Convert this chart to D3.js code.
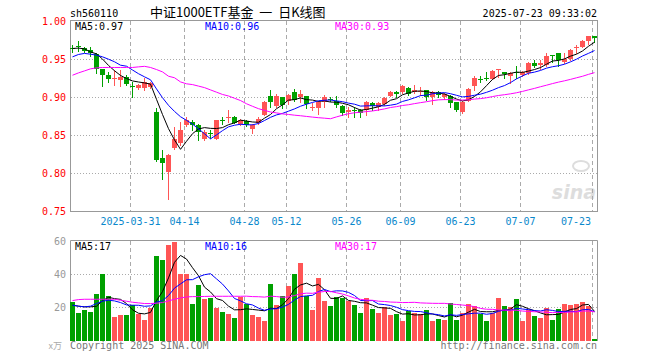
<!DOCTYPE html>
<html><head><meta charset="utf-8">
<script src="https://cdn.jsdelivr.net/npm/d3@7/dist/d3.min.js"></script>
<style>body{margin:0;background:#fff}svg{display:block}</style>
</head><body><svg id="c" width="660" height="360"></svg>
<script>
// ---- data ----
const dates = [
 "2025-03-17","2025-03-18","2025-03-19","2025-03-20","2025-03-21","2025-03-24","2025-03-25","2025-03-26","2025-03-27","2025-03-28",
 "2025-03-31","2025-04-01","2025-04-02","2025-04-03","2025-04-07","2025-04-08","2025-04-09","2025-04-10","2025-04-11","2025-04-14",
 "2025-04-15","2025-04-16","2025-04-17","2025-04-18","2025-04-21","2025-04-22","2025-04-23","2025-04-24","2025-04-25","2025-04-28",
 "2025-04-29","2025-04-30","2025-05-06","2025-05-07","2025-05-08","2025-05-09","2025-05-12","2025-05-13","2025-05-14","2025-05-15",
 "2025-05-16","2025-05-19","2025-05-20","2025-05-21","2025-05-22","2025-05-23","2025-05-26","2025-05-27","2025-05-28","2025-05-29",
 "2025-05-30","2025-06-03","2025-06-04","2025-06-05","2025-06-06","2025-06-09","2025-06-10","2025-06-11","2025-06-12","2025-06-13",
 "2025-06-16","2025-06-17","2025-06-18","2025-06-19","2025-06-20","2025-06-23","2025-06-24","2025-06-25","2025-06-26","2025-06-27",
 "2025-06-30","2025-07-01","2025-07-02","2025-07-03","2025-07-04","2025-07-07","2025-07-08","2025-07-09","2025-07-10","2025-07-11",
 "2025-07-14","2025-07-15","2025-07-16","2025-07-17","2025-07-18","2025-07-21","2025-07-22","2025-07-23"];
const open = [.965,.968,.965,.963,.957,.937,.930,.925,.923,.927,
 .915,.912,.912,.914,.881,.820,.802,.833,.840,.864,
 .868,.864,.845,.853,.846,.871,.873,.875,.865,.869,
 .859,.866,.877,.902,.889,.900,.896,.907,.901,.902,
 .886,.886,.894,.898,.896,.889,.881,.884,.884,.883,
 .893,.888,.891,.902,.907,.907,.913,.907,.908,.910,
 .900,.907,.900,.902,.894,.881,.896,.915,.924,.925,
 .924,.936,.933,.928,.933,.929,.932,.946,.943,.943,
 .956,.958,.947,.951,.966,.967,.975,.981];
const high = [.969,.975,.966,.966,.958,.938,.934,.936,.936,.929,
 .920,.918,.925,.921,.886,.831,.826,.861,.868,.874,
 .871,.865,.857,.857,.871,.874,.883,.876,.872,.870,
 .865,.874,.896,.910,.904,.901,.905,.911,.910,.902,
 .893,.895,.903,.900,.902,.890,.888,.888,.885,.895,
 .894,.894,.900,.908,.908,.917,.914,.916,.914,.910,
 .908,.909,.906,.903,.894,.896,.913,.928,.928,.934,
 .936,.937,.934,.933,.941,.935,.947,.949,.950,.959,
 .956,.958,.959,.964,.969,.976,.981,.981];
const low = [.960,.961,.960,.955,.932,.915,.921,.916,.915,.916,
 .900,.911,.910,.912,.817,.793,.767,.832,.837,.863,
 .857,.844,.844,.847,.845,.865,.868,.866,.864,.862,
 .853,.865,.877,.888,.888,.886,.892,.896,.894,.886,
 .883,.878,.888,.895,.888,.877,.875,.875,.875,.877,
 .883,.883,.890,.902,.900,.906,.903,.906,.903,.897,
 .891,.901,.898,.888,.882,.880,.895,.910,.921,.923,
 .924,.927,.926,.919,.926,.928,.931,.940,.938,.942,
 .947,.941,.946,.950,.959,.966,.970,.973];
const close = [.964,.966,.961,.958,.938,.930,.924,.926,.927,.918,
 .914,.917,.920,.919,.818,.814,.824,.846,.857,.871,
 .864,.855,.855,.852,.870,.870,.874,.867,.870,.864,
 .864,.872,.894,.894,.902,.890,.903,.897,.905,.891,
 .887,.894,.901,.897,.890,.880,.884,.883,.880,.894,
 .889,.893,.899,.907,.904,.915,.905,.910,.909,.900,
 .907,.903,.904,.893,.883,.894,.911,.926,.923,.924,
 .935,.937,.931,.932,.932,.933,.946,.941,.945,.954,
 .954,.950,.951,.963,.967,.975,.981,.978];
const volume = [23.2,16.7,18.4,17.4,28.1,40.2,26.8,14.3,15.3,15.3,
 21.4,16.3,12.3,19.8,51.1,48.7,57.8,59.6,40.6,40.2,
 22.4,33.5,25.0,26.0,19.8,17.1,16.3,13.7,26.4,22.4,
 15.3,14.3,11.7,34.1,21.4,26.8,32.9,40.2,47.0,26.8,
 18.4,37.6,24.0,21.0,26.4,26.0,24.0,21.4,16.7,25.8,
 19.2,16.7,20.4,15.3,15.9,11.7,17.8,16.7,15.9,18.4,
 11.7,12.9,12.3,22.6,12.3,16.7,22.0,20.8,15.9,11.7,
 16.7,25.8,20.8,20.4,25.0,11.7,18.4,14.7,13.7,19.4,
 12.3,18.9,22.0,21.4,22.0,23.2,20.8,0.8];
// moving-average values before a full window exists
const ma5Head  = [.9645,.965,.964,.960];
const ma10Head = [.9535,.9566,.958,.957,.9557,.9535,.9504,.947,.9425];
const ma30Head = [.9293,.9324,.935,.9377,.939,.9395,.9395,.9395,.9395,.9395,.9395,.9403,.941,.9395,.9368,.9337,.928,.926,.9205,.918,.917,.915,.913,.910,.907,.904,.902,.899,.896];
const vma5Head  = [21.4,20.8,20.4,20.4];
const vma10Head = [21.4,20.8,20.4,20.8,22.4,23.8,24.4,24.0,23.0];
const vma30Head = [24.2,24.8,25.0,25.0,25.0,25.0,25.0,25.0,24.4,23.8,23.2,22.8,22.4,22.4,22.6,23.0,24.0,25.0,25.8,26.4,26.6,26.6,26.7,26.8,26.8,26.8,26.8,26.8,26.8];
const priceTicks = [1.00,0.95,0.90,0.85,0.80,0.75];
const volTicks = [60,40,20];
const tickDates = ["2025-03-31","2025-04-14","2025-04-28","2025-05-12","2025-05-26","2025-06-09","2025-06-23","2025-07-07","2025-07-23"];
const tickLabels = ["2025-03-31","04-14","04-28","05-12","05-26","06-09","06-23","07-07","07-23"];
const priceMaLabels = ["MA5:0.97","MA10:0.96","MA30:0.93"];
const volMaLabels = ["MA5:17","MA10:16","MA30:17"];
const maColors = ["#000000","#0000ff","#ff00ff"];

// ---- drawing ----
const svg = d3.select("#c");
const MONO = "'DejaVu Sans Mono', monospace";
const RED = "#ff5555", GREEN = "#00a000", FRAME = "#999999", GRID = "#aaaaaa";
const n = dates.length;
const x = d3.scaleBand().domain(d3.range(n)).range([70, 70 + 6 * n]).padding(0);
const y = d3.scaleLinear().domain([0.75, 1.0]).range([211.5, 21.5]);
const yv = d3.scaleLinear().domain([0, 60]).range([340.5, 241.5]);
const cx = i => x(i) + 2.5;
const up = i => close[i] >= open[i];

function ma(arr, k, head) {
  return arr.map((_, i) => i < k - 1 ? head[i] : d3.mean(arr.slice(i - k + 1, i + 1)));
}

// header texts
svg.append("text").attr("x", 70).attr("y", 16.5).attr("font-family", MONO).attr("font-size", 10).text("sh560110");
svg.append("text").attr("x", 150).attr("y", 16.5).attr("font-family", "'Noto Sans CJK SC', sans-serif").attr("font-size", 13)
  .style("white-space", "pre").text("中证1000ETF基金  一  日K线图");
svg.append("text").attr("x", 597).attr("y", 16.5).attr("text-anchor", "end").attr("font-family", MONO).attr("font-size", 10).text("2025-07-23 09:33:02");

// watermark
const wm = svg.append("g").attr("fill", "none").attr("stroke", "#dddddd");
wm.append("ellipse").attr("cx", 581).attr("cy", 166).attr("rx", 8).attr("ry", 5).attr("stroke-width", 2);
svg.append("text").attr("x", 596).attr("y", 199).attr("text-anchor", "end").attr("font-family", "'DejaVu Sans', sans-serif")
  .attr("font-style", "italic").attr("font-weight", "bold").attr("font-size", 19).attr("fill", "#dddddd").text("sina");

// grid
const gx = tickDates.map(d => x(dates.indexOf(d)) + 0.5);
const grid = svg.append("g").attr("stroke", GRID).attr("stroke-width", 1);
grid.selectAll(".vm").data(gx).join("line").attr("class","vm").attr("x1", d => d).attr("x2", d => d).attr("y1", 21).attr("y2", 211).attr("stroke-dasharray", "4,3");
grid.selectAll(".vv").data(gx).join("line").attr("class","vv").attr("x1", d => d).attr("x2", d => d).attr("y1", 241).attr("y2", 340).attr("stroke-dasharray", "4,3");
grid.selectAll(".hm").data(priceTicks.slice(1, -1)).join("line").attr("class","hm").attr("x1", 71).attr("x2", 597).attr("y1", d => y(d)).attr("y2", d => y(d)).attr("stroke-dasharray", "1,2");
grid.selectAll(".hv").data(volTicks.slice(1)).join("line").attr("class","hv").attr("x1", 71).attr("x2", 597).attr("y1", d => yv(d)).attr("y2", d => yv(d)).attr("stroke-dasharray", "1,2");

// frames
const fr = svg.append("g").attr("stroke", FRAME).attr("fill", "none");
fr.append("rect").attr("x", 70.5).attr("y", 20.5).attr("width", 527).attr("height", 191);
fr.append("path").attr("d", "M70.5,341V240.5H597.5V341");

// y labels
svg.selectAll(".pl").data(priceTicks).join("text").attr("class","pl").attr("x", 66).attr("y", d => y(d) + 3.5)
  .attr("text-anchor", "end").attr("font-family", MONO).attr("font-size", 10).attr("fill", "#ff0000").text(d => d.toFixed(2));
svg.selectAll(".vl").data(volTicks).join("text").attr("class","vl").attr("x", 66).attr("y", d => yv(d) + 3)
  .attr("text-anchor", "end").attr("font-family", MONO).attr("font-size", 10).attr("fill", "#999999").text(d => d);

// x labels
svg.selectAll(".xl").data(tickLabels).join("text").attr("class","xl")
  .attr("x", (d, i) => i === tickLabels.length - 1 ? 591 : gx[i])
  .attr("text-anchor", (d, i) => i === tickLabels.length - 1 ? "end" : "middle")
  .attr("y", 225).attr("font-family", MONO).attr("font-size", 10).attr("fill", "#0a88cc").text(d => d);

// candles
const idx = d3.range(n);
const cg = svg.append("g");
cg.selectAll(".wick").data(idx).join("line").attr("class","wick")
  .attr("x1", cx).attr("x2", cx).attr("y1", i => Math.round(y(high[i]))).attr("y2", i => Math.round(y(low[i])) + 1)
  .attr("stroke", i => up(i) ? RED : GREEN);
cg.selectAll(".body").data(idx).join("rect").attr("class","body")
  .attr("x", i => x(i)).attr("width", 5)
  .attr("y", i => Math.round(y(Math.max(open[i], close[i]))))
  .attr("height", i => Math.max(1, Math.round(y(Math.min(open[i], close[i]))) - Math.round(y(Math.max(open[i], close[i])))))
  .attr("fill", i => up(i) ? RED : GREEN).attr("shape-rendering", "crispEdges");

// price MAs
const pm = [ma(close, 5, ma5Head), ma(close, 10, ma10Head), ma(close, 30, ma30Head)];
const lineP = d3.line().x((d, i) => cx(i)).y(d => y(d));
pm.forEach((arr, k) => svg.append("path").attr("d", lineP(arr)).attr("fill", "none").attr("stroke", maColors[k]).attr("stroke-width", 1));

// volume bars
svg.append("g").selectAll("rect").data(idx).join("rect")
  .attr("x", i => x(i)).attr("width", 5)
  .attr("y", i => Math.round(yv(volume[i])))
  .attr("height", i => 341 - Math.round(yv(volume[i])))
  .attr("fill", i => up(i) ? RED : GREEN).attr("shape-rendering", "crispEdges");

// volume MAs
const vm = [ma(volume, 5, vma5Head), ma(volume, 10, vma10Head), ma(volume, 30, vma30Head)];
const lineV = d3.line().x((d, i) => cx(i)).y(d => yv(d));
vm.forEach((arr, k) => svg.append("path").attr("d", lineV(arr)).attr("fill", "none").attr("stroke", maColors[k]).attr("stroke-width", 1));

// MA legends
const lx = [75, 205, 335];
svg.selectAll(".pml").data(priceMaLabels).join("text").attr("class","pml").attr("x", (d, i) => lx[i]).attr("y", 30)
  .attr("font-family", MONO).attr("font-size", 10).attr("fill", (d, i) => maColors[i]).text(d => d);
svg.selectAll(".vml").data(volMaLabels).join("text").attr("class","vml").attr("x", (d, i) => lx[i]).attr("y", 250)
  .attr("font-family", MONO).attr("font-size", 10).attr("fill", (d, i) => maColors[i]).text(d => d);

// footer
svg.append("text").attr("x", 62).attr("y", 349).attr("text-anchor", "end").attr("font-family", "'Noto Sans CJK SC', sans-serif")
  .attr("font-size", 9).attr("fill", "#aaaaaa").text("x万");
svg.append("text").attr("x", 70).attr("y", 349).attr("font-family", MONO).attr("font-size", 10).attr("fill", "#777777").text("Copyright 2025 SINA.COM");
svg.append("text").attr("x", 597).attr("y", 349).attr("text-anchor", "end").attr("font-family", MONO).attr("font-size", 10).attr("fill", "#777777").text("http://finance.sina.com.cn");
</script></body></html>
